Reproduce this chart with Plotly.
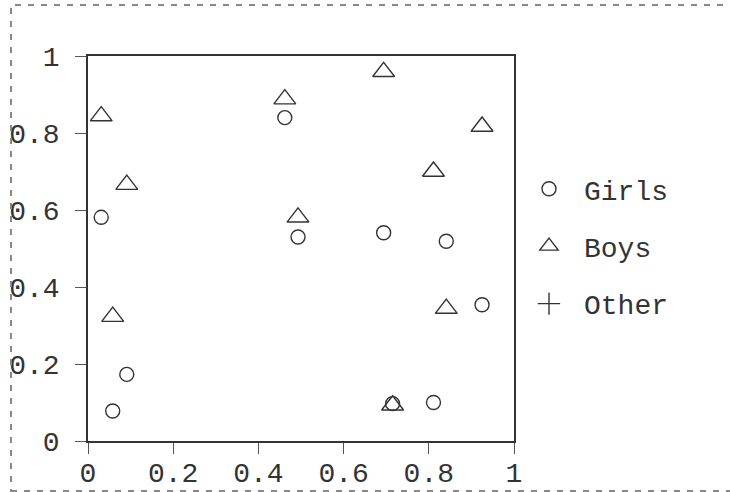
import plotly.graph_objects as go

# Scatter of respondents by group
x_vals = [0.031, 0.058, 0.091, 0.462, 0.493, 0.694, 0.715, 0.811, 0.841, 0.925]
girls_y = [0.581, 0.078, 0.173, 0.840, 0.530, 0.541, 0.097, 0.100, 0.519, 0.354]
boys_y = [0.844, 0.323, 0.666, 0.888, 0.581, 0.959, 0.093, 0.700, 0.344, 0.817]
other_x = [None]
other_y = [None]
tick_vals = [0, 0.2, 0.4, 0.6, 0.8, 1]
tick_text = ["0", "0.2", "0.4", "0.6", "0.8", "1"]

FONT = "Liberation Mono, Courier New, monospace"
INK = "#333333"

fig = go.Figure()
fig.add_trace(go.Scatter(
    x=x_vals, y=girls_y, mode="markers", name="Girls", legendgroup="g",
    marker=dict(symbol="circle-open", size=14, color=INK, line=dict(width=1.4, color=INK)),
))
fig.add_trace(go.Scatter(
    x=x_vals, y=boys_y, mode="markers", name="Boys", legendgroup="b",
    marker=dict(symbol="triangle-up-open", size=19, color=INK, line=dict(width=1.4, color=INK)),
))
fig.add_trace(go.Scatter(
    x=other_x, y=other_y, mode="markers", name="Other", legendgroup="o",
    marker=dict(symbol="cross-thin-open", size=20, color=INK, line=dict(width=1.4, color=INK)),
))

axis_common = dict(
    range=[0, 1], tickvals=tick_vals, ticktext=tick_text, automargin=False,
    showgrid=False, zeroline=False, showline=True, mirror=True,
    linecolor=INK, linewidth=1.5, ticks="outside", ticklen=11,
    tickwidth=1.3, tickcolor="#555555",
    tickfont=dict(family=FONT, size=28, color=INK),
)
fig.update_xaxes(**axis_common, ticklabelstandoff=-5)
fig.update_yaxes(**axis_common, ticklabelstandoff=10)

# dashed frame around the whole figure
fig.add_shape(
    type="rect", xref="paper", yref="paper", xsizemode="pixel", ysizemode="pixel",
    xanchor=0, yanchor=0, x0=-77, x1=660, y0=-50, y1=436,
    line=dict(color="#888888", width=2, dash="6px,7px"), fillcolor="rgba(0,0,0,0)",
)

fig.update_layout(
    width=730, height=492,
    margin=dict(l=88, r=216, t=56, b=51, autoexpand=False),
    paper_bgcolor="white", plot_bgcolor="white",
    font=dict(family=FONT, size=28, color=INK),
    legend=dict(
        x=1.0, y=0.505, xanchor="left", yanchor="middle",
        itemwidth=60, tracegroupgap=18, bgcolor="rgba(0,0,0,0)",
        font=dict(family=FONT, size=28, color=INK),
    ),
)

fig.write_html("out.html")
